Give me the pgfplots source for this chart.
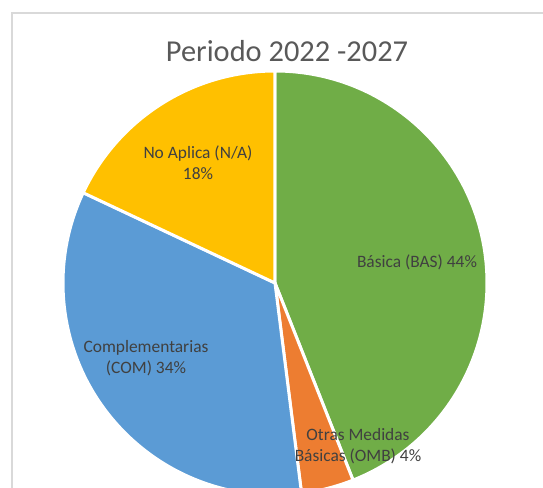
\documentclass[border=0pt]{standalone}
\usepackage{pgfplots}
\pgfplotsset{compat=1.18}
\usepackage{pgfplotstable}
\usepackage{fontspec}
\setmainfont{Carlito}

\definecolor{bas}{HTML}{70AD47}
\definecolor{omb}{HTML}{ED7D31}
\definecolor{com}{HTML}{5B9BD5}
\definecolor{na}{HTML}{FFC000}
\definecolor{titlegray}{HTML}{595959}
\definecolor{labelgray}{HTML}{404040}
\definecolor{framegray}{HTML}{D9D9D9}

% share of each category, percent
\pgfplotstableread{
cat value
BAS 44
OMB 4
COM 34
NA  18
}\piedata

% cumulative angles, clockwise from 12 o'clock
\pgfplotstablegetelem{0}{value}\of\piedata \let\vA\pgfplotsretval
\pgfplotstablegetelem{1}{value}\of\piedata \let\vB\pgfplotsretval
\pgfplotstablegetelem{2}{value}\of\piedata \let\vC\pgfplotsretval
\pgfplotstablegetelem{3}{value}\of\piedata \let\vD\pgfplotsretval
\pgfmathsetmacro\aA{90}
\pgfmathsetmacro\aB{\aA-3.6*\vA}
\pgfmathsetmacro\aC{\aB-3.6*\vB}
\pgfmathsetmacro\aD{\aC-3.6*\vC}
\pgfmathsetmacro\aE{\aD-3.6*\vD}

\newcommand\labfont{\fontsize{8.7}{10.5}\selectfont}

\begin{document}
\begin{tikzpicture}
\begin{axis}[
  width=271.5pt, height=244pt, scale only axis,
  xmin=0, xmax=543, ymin=0, ymax=488,
  hide axis, clip=false]

  % chart frame
  \draw[framegray, line width=0.6pt] (axis cs:12,-20) -- (axis cs:12,475) -- (axis cs:600,475);

  % slices (radius 212 units = 106pt)
  \filldraw[fill=bas, draw=white, line width=1.5pt, line join=round]
    (axis cs:275,205) -- ++(\aA:106pt) arc[start angle=\aA, end angle=\aB, radius=106pt] -- cycle;
  \filldraw[fill=omb, draw=white, line width=1.5pt, line join=round]
    (axis cs:275,205) -- ++(\aB:106pt) arc[start angle=\aB, end angle=\aC, radius=106pt] -- cycle;
  \filldraw[fill=com, draw=white, line width=1.5pt, line join=round]
    (axis cs:275,205) -- ++(\aC:106pt) arc[start angle=\aC, end angle=\aD, radius=106pt] -- cycle;
  \filldraw[fill=na, draw=white, line width=1.5pt, line join=round]
    (axis cs:275,205) -- ++(\aD:106pt) arc[start angle=\aD, end angle=\aE, radius=106pt] -- cycle;

  % title
  \node[titlegray, anchor=base, font=\fontsize{15.2}{18}\selectfont]
    at (axis cs:287,426) {Periodo 2022 -2027};

  % data labels
  \node[labelgray, align=center, font=\labfont] at (axis cs:417,226) {Básica (BAS) \vA\%};
  \node[labelgray, align=center, font=\labfont] at (axis cs:358,42) {Otras Medidas\\Básicas (OMB) \vB\%};
  \node[labelgray, align=center, font=\labfont] at (axis cs:146,130) {Complementarias\\(COM) \vC\%};
  \node[labelgray, align=center, font=\labfont] at (axis cs:198,325) {No Aplica (N/A)\\\vD\%};
\end{axis}
\pgfresetboundingbox
\path (current axis.south west) rectangle (current axis.north east);
\end{tikzpicture}
\end{document}
